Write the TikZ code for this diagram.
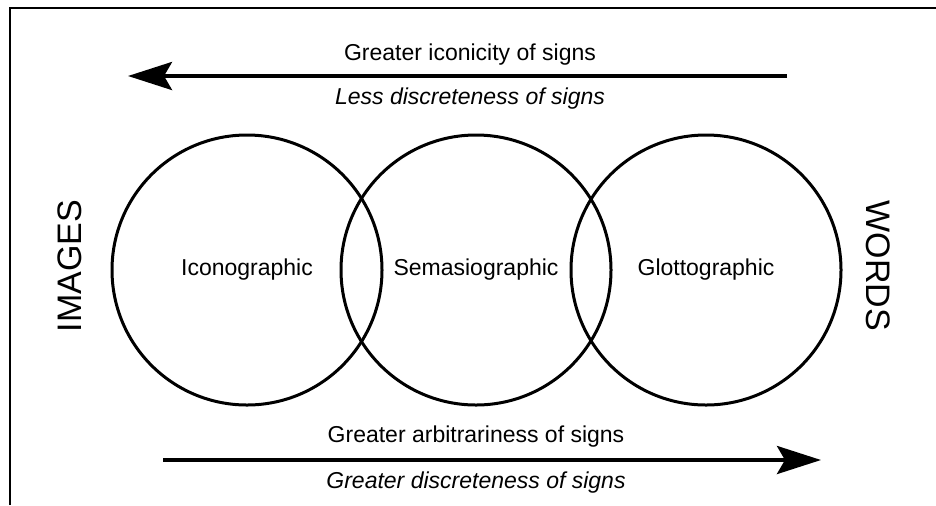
\documentclass[tikz,border=0pt]{standalone}
\usepackage{fontspec}
\setmainfont{Liberation Sans}
\usepackage{tikz}
\usetikzlibrary{arrows.meta}

\begin{document}
\begin{tikzpicture}[x=0.5pt,y=-0.5pt,
  ring/.style={draw,circle,line width=1.5pt,minimum size=135pt,inner sep=0pt,
    font=\fontsize{11.5}{14}\selectfont},
  txt/.style={font=\fontsize{11.5}{14}\selectfont},
  side/.style={font=\fontsize{17}{20}\selectfont},
  bigarrow/.style={line width=2pt,-{Stealth[length=22pt,width=14pt,inset=4pt]}}]
  \useasboundingbox (0,0) rectangle (936,505);
  \draw[line width=1pt] (10,505) -- (10,8) -- (936,8);

  \node[ring] (ico) at (247,270) {Iconographic};
  \node[ring] (sem) at (476,270) {Semasiographic};
  \node[ring] (glo) at (706,270) {Glottographic};

  \node[side,rotate=90] (img) at (70,266) {IMAGES};
  \node[side,rotate=-90] (wrd) at (878,266) {WORDS};

  % top arrow
  \coordinate (topR) at (787,76);
  \coordinate (topL) at (128,76);
  \draw[bigarrow] (topR) -- (topL);
  \node[txt] (iconic) at (470,55) {Greater iconicity of signs};
  \node[txt] (lessd) at (470,99) {\itshape Less discreteness of signs};

  % bottom arrow
  \coordinate (botL) at (163,460);
  \coordinate (botR) at (821,460);
  \draw[bigarrow] (botL) -- (botR);
  \node[txt] (arbit) at (476,437) {Greater arbitrariness of signs};
  \node[txt] (mored) at (476,483) {\itshape Greater discreteness of signs};
\end{tikzpicture}
\end{document}
